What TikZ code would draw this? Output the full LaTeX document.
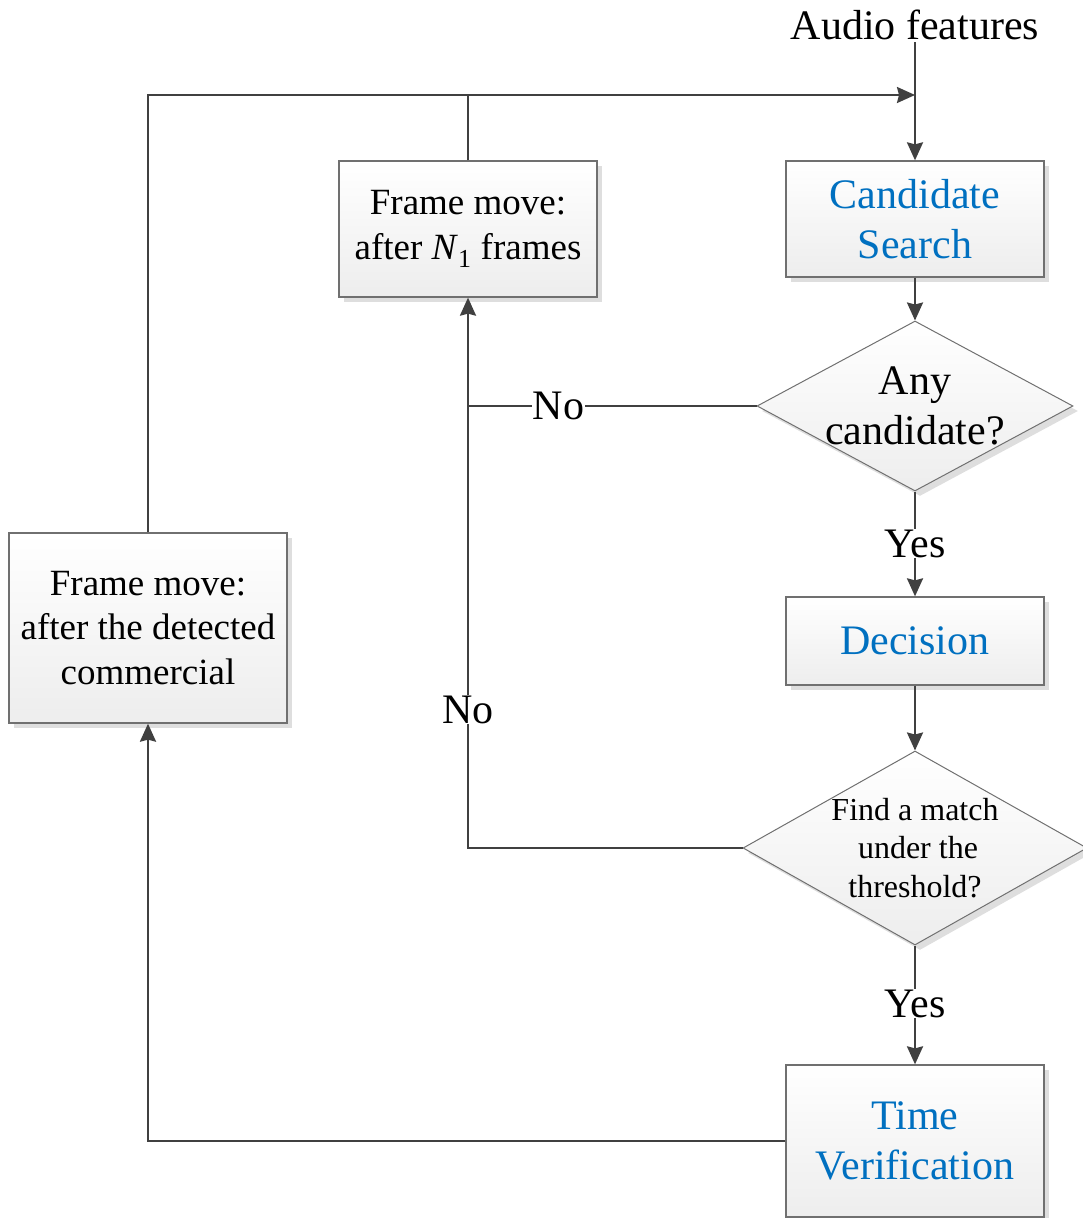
\documentclass[tikz,border=0pt]{standalone}
\usepackage{fontspec}
\setmainfont{Liberation Serif}
\usetikzlibrary{shapes.geometric,arrows.meta,shadows}
\definecolor{linegray}{HTML}{404040}
\definecolor{boxedge}{HTML}{707070}
\definecolor{stepblue}{HTML}{0070C0}
\tikzset{
  boxbase/.style={draw=boxedge, line width=1.3pt, top color=white, bottom color=black!7,
    drop shadow={shadow xshift=5pt, shadow yshift=-5pt, fill=black!13, opacity=1}},
  procbox/.style={boxbase, rectangle, inner sep=0pt, align=center},
  decbox/.style={boxbase, diamond, inner sep=0pt, line width=1pt},
  bigtext/.style={font=\fontsize{42}{50.4}\selectfont},
  midtext/.style={font=\fontsize{37}{44.5}\selectfont},
  smalltext/.style={font=\fontsize{32}{38.5}\selectfont},
  conn/.style={draw=linegray, line width=2.3pt, -{Stealth[length=18pt,width=16pt,inset=2pt]}},
  plainline/.style={draw=linegray, line width=2.3pt},
  lbl/.style={fill=white, text=black, inner sep=0.5pt, bigtext}
}
\begin{document}
\begin{tikzpicture}[x=1pt,y=-1pt]
\useasboundingbox (0,0) rectangle (1082,1218);

% process boxes
\node[procbox, minimum width=258pt, minimum height=136pt, midtext] (nmove) at (468,229)
  {Frame move:\\after \textit{N}\textsubscript{1} frames};
\node[procbox, minimum width=258pt, minimum height=116pt, bigtext, text=stepblue] (search) at (915,219)
  {Candidate\\Search};
\node[procbox, minimum width=258pt, minimum height=88pt, bigtext, text=stepblue] (decision) at (915,641)
  {Decision};
\node[procbox, minimum width=278pt, minimum height=190pt, midtext] (cmove) at (148,628)
  {Frame move:\\after the detected\\commercial};
\node[procbox, minimum width=258pt, minimum height=152pt, bigtext, text=stepblue] (verify) at (915,1141)
  {Time\\Verification};

% decision diamonds
\node[decbox, minimum width=316pt, minimum height=170pt] (anycand) at (915,406) {};
\node[bigtext, align=center] (anycandtext) at (anycand.center) {Any\\candidate?};
\node[decbox, minimum width=344pt, minimum height=194pt] (match) at (915,848) {};
\node[smalltext, align=center] (matchtext) at (match.center) {Find a match\\\hspace*{6pt}under the\\threshold?};

% input
\node[bigtext, inner sep=2pt] (audio) at (915,25) {Audio features};

% junction points
\coordinate (topjoin) at (915,95);
\coordinate (nojoin) at (nmove.south |- anycand.west);
\coordinate (nojoin2) at (nmove.south |- match.west);
\coordinate (cmtop) at (cmove.north |- topjoin);
\coordinate (nmtop) at (nmove.north |- topjoin);
\coordinate (vbottom) at (cmove.south |- verify.west);

% main flow
\draw[conn] (audio.south) -- (search.north);
\draw[conn] (search.south) -- (anycand.north);
\draw[conn] (anycand.south) -- node[lbl] {Yes} (decision.north);
\draw[conn] (decision.south) -- (match.north);
\draw[conn] (match.south) -- node[lbl, pos=0.49] {Yes} (verify.north);

% "no candidate" branch back to the N1 frame move
\draw[conn] (anycand.west) -- node[lbl, pos=0.686] {No} (nojoin) -- (nmove.south);
\draw[plainline] (match.west) -- (nojoin2) -- node[lbl, pos=0.313] {No} (nojoin);

% loops back to the input line
\draw[plainline] (nmove.north) -- (nmtop);
\draw[conn] (cmove.north) -- (cmtop) -- (topjoin);
\draw[conn] (verify.west) -- (vbottom) -- (cmove.south);
\end{tikzpicture}
\end{document}
